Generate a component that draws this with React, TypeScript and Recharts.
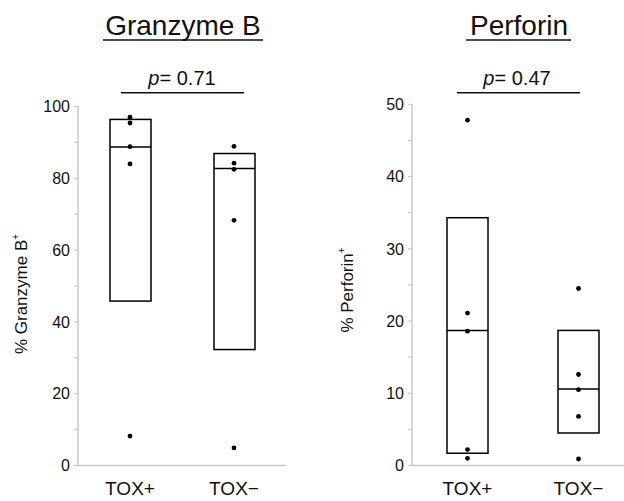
import React from 'react';
import { ComposedChart, Bar, Scatter, XAxis, YAxis } from 'recharts';

const groups = ['TOX+', 'TOX\u2212'];

const gzmbQ1 = [45.8, 32.3];
const gzmbMedian = [88.7, 82.7];
const gzmbQ3 = [96.4, 86.9];
const gzmbPointsPos = [97.0, 95.4, 88.8, 84.0, 8.2];
const gzmbPointsNeg = [88.9, 84.2, 82.5, 68.3, 4.9];
const gzmbTicks = [0, 10, 20, 30, 40, 50, 60, 70, 80, 90, 100];

const prfQ1 = [1.7, 4.5];
const prfMedian = [18.7, 10.6];
const prfQ3 = [34.3, 18.7];
const prfPointsPos = [47.8, 21.1, 18.6, 2.2, 1.0];
const prfPointsNeg = [24.5, 12.6, 10.5, 6.8, 0.9];
const prfTicks = [0, 5, 10, 15, 20, 25, 30, 35, 40, 45, 50];

const FONT = '"Liberation Sans", Arial, Helvetica, sans-serif';
const AXIS = '#c8c8c8';

const buildRows = (q1: number[], med: number[], q3: number[], pts: number[][]) =>
  groups.map((g, i) => {
    const row: any = { group: g, box: [q1[i], q3[i]], median: med[i] };
    pts[i].forEach((v, j) => {
      row['p' + j] = v;
    });
    return row;
  });

const BoxShape = (props: any) => {
  const { x, y, width, height, payload } = props;
  const [lo, hi] = payload.box;
  const top = Math.min(y, y + height);
  const h = Math.abs(height);
  const my = top + (h * (hi - payload.median)) / (hi - lo);
  return (
    <g>
      <rect x={x} y={top} width={width} height={h} fill="#fff" stroke="#000" strokeWidth={1.5} />
      <line x1={x} x2={x + width} y1={my} y2={my} stroke="#000" strokeWidth={1.5} />
    </g>
  );
};

const Dot = (props: any) => <circle cx={props.cx} cy={props.cy} r={2.4} fill="#000" />;

const makeTick = (step: number) => (props: any) => {
  const { x, y, payload } = props;
  if (payload.value % step !== 0) return <g />;
  return (
    <text x={x} y={y} dy="0.36em" textAnchor="end" fontSize={16} fill="#111" fontFamily={FONT}>
      {payload.value}
    </text>
  );
};

const XTick = (props: any) => {
  const { x, y, payload } = props;
  return (
    <text x={x} y={y} dy="0.71em" textAnchor="middle" fontSize={19} fill="#111" fontFamily={FONT}>
      {payload.value}
    </text>
  );
};

type PanelProps = {
  rows: any[];
  domain: [number, number];
  ticks: number[];
  step: number;
  width: number;
  yAxisWidth: number;
  top: number;
  right: number;
  left: number;
};

const Panel = ({ rows, domain, ticks, step, width, yAxisWidth, top, right, left }: PanelProps) => (
  <div style={{ position: 'absolute', left, top: 0 }}>
    <ComposedChart
      width={width}
      height={501}
      data={rows}
      margin={{ top, right, left: 0, bottom: 5.5 }}
    >
      <XAxis
        dataKey="group"
        type="category"
        allowDuplicatedCategory={false}
        axisLine={{ stroke: AXIS, strokeWidth: 1.5 }}
        tickLine={false}
        tickSize={0}
        tickMargin={16}
        height={30}
        tick={<XTick />}
      />
      <YAxis
        type="number"
        domain={domain}
        ticks={ticks}
        interval={0}
        width={yAxisWidth}
        axisLine={{ stroke: AXIS, strokeWidth: 1.5 }}
        tickLine={{ stroke: AXIS, strokeWidth: 1.2 }}
        tickSize={4}
        tickMargin={4}
        tick={makeTick(step)}
        allowDataOverflow
      />
      <Bar dataKey="box" barSize={41} shape={<BoxShape />} isAnimationActive={false} />
      {[0, 1, 2, 3, 4].map((j) => (
        <Scatter key={j} dataKey={'p' + j} shape={<Dot />} isAnimationActive={false} />
      ))}
    </ComposedChart>
  </div>
);

const gzmbRows = buildRows(gzmbQ1, gzmbMedian, gzmbQ3, [gzmbPointsPos, gzmbPointsNeg]);
const prfRows = buildRows(prfQ1, prfMedian, prfQ3, [prfPointsPos, prfPointsNeg]);

const Overlay = () => (
  <svg width={624} height={501} style={{ position: 'absolute', left: 0, top: 0, pointerEvents: 'none' }} fontFamily={FONT}>
    {/* titles */}
    <text x={183} y={35} textAnchor="middle" fontSize={28} fill="#111">Granzyme B</text>
    <line x1={103} x2={263} y1={40} y2={40} stroke="#111" strokeWidth={1.6} />
    <text x={519} y={35} textAnchor="middle" fontSize={28} fill="#111">Perforin</text>
    <line x1={466} x2={571} y1={40} y2={40} stroke="#111" strokeWidth={1.6} />
    {/* p values */}
    <text x={182} y={85} textAnchor="middle" fontSize={20} fill="#111">
      <tspan fontStyle="italic">p</tspan>= 0.71
    </text>
    <line x1={121} x2={244} y1={92.7} y2={92.7} stroke="#111" strokeWidth={1.5} />
    <text x={517} y={85} textAnchor="middle" fontSize={20} fill="#111">
      <tspan fontStyle="italic">p</tspan>= 0.47
    </text>
    <line x1={457} x2={580} y1={92.7} y2={92.7} stroke="#111" strokeWidth={1.5} />
    {/* y labels */}
    <text transform="translate(27,294) rotate(-90)" textAnchor="middle" fontSize={17} fill="#111">
      % Granzyme B<tspan fontSize={10} dy={-8}>+</tspan>
    </text>
    <text transform="translate(353,290) rotate(-90)" textAnchor="middle" fontSize={17} fill="#111">
      % Perforin<tspan fontSize={10} dy={-8}>+</tspan>
    </text>
  </svg>
);

export default function App() {
  return (
    <div style={{ position: 'absolute', left: 0, top: 0, width: 624, height: 501, overflow: 'hidden', background: '#fff' }}>
      <Panel rows={gzmbRows} domain={[0, 100]} ticks={gzmbTicks} step={20} width={312} yAxisWidth={78} top={106.5} right={26} left={0} />
      <Panel rows={prfRows} domain={[0, 50]} ticks={prfTicks} step={10} width={322} yAxisWidth={100} top={104.3} right={0} left={312} />
      <Overlay />
    </div>
  );
}
